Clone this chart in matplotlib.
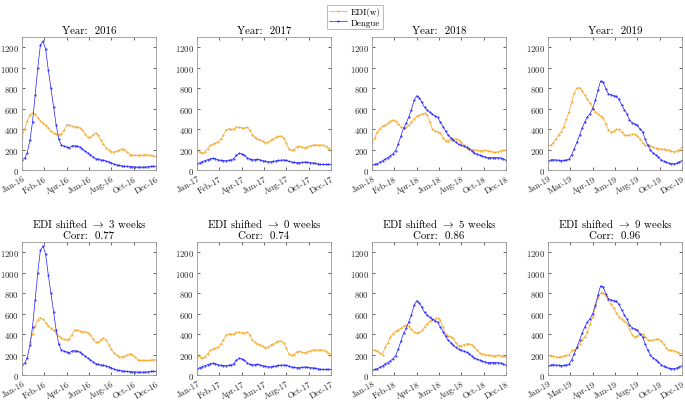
import matplotlib
matplotlib.use('Agg')
import matplotlib.pyplot as plt
import numpy as np

plt.rcParams['font.family'] = 'cmr10'
plt.rcParams['mathtext.fontset'] = 'cm'
plt.rcParams['axes.formatter.use_mathtext'] = True

years = [2016, 2017, 2018, 2019]
shifts = [3, 0, 5, 9]
corrs = [0.77, 0.74, 0.86, 0.96]

tick_labels = {
    2016: ['Jan-16', 'Feb-16', 'Apr-16', 'Jun-16', 'Aug-16', 'Oct-16', 'Dec-16'],
    2017: ['Jan-17', 'Feb-17', 'Apr-17', 'Jun-17', 'Aug-17', 'Oct-17', 'Dec-17'],
    2018: ['Jan-18', 'Feb-18', 'Apr-18', 'Jun-18', 'Aug-18', 'Oct-18', 'Dec-18'],
    2019: ['Jan-19', 'Mar-19', 'Apr-19', 'Jun-19', 'Aug-19', 'Oct-19', 'Dec-19'],
}

# weekly EDI(w) values, one list per year
edi_2016 = [320, 400, 480, 540, 560, 545, 510, 480, 455, 435, 410, 380, 360, 348, 345, 355,
            390, 440, 438, 430, 418, 425, 415, 395, 350, 318, 318, 345, 362, 340, 295, 250,
            215, 195, 180, 175, 182, 195, 208, 200, 175, 150, 142, 142, 142, 143, 146, 150,
            148, 143, 138, 132]
edi_2017 = [190, 175, 162, 180, 205, 240, 252, 262, 275, 300, 340, 390, 402, 398, 400, 418,
            418, 412, 410, 418, 395, 345, 318, 304, 298, 280, 265, 270, 290, 305, 318, 328,
            332, 312, 260, 205, 192, 200, 228, 232, 222, 218, 228, 235, 242, 245, 245, 244,
            243, 232, 215, 200]
edi_2018 = [272, 312, 370, 405, 428, 440, 455, 475, 487, 475, 445, 420, 412, 418, 435, 470,
            500, 525, 535, 548, 558, 535, 470, 400, 380, 375, 360, 310, 285, 288, 298, 304,
            304, 295, 272, 240, 215, 205, 198, 195, 192, 190, 190, 192, 188, 182, 175, 172,
            180, 188, 192, 193]
edi_2019 = [240, 242, 265, 305, 345, 375, 420, 500, 570, 660, 755, 800, 805, 770, 730, 690,
            655, 610, 570, 545, 525, 505, 450, 395, 370, 378, 398, 398, 375, 345, 338, 340,
            348, 348, 335, 300, 265, 242, 240, 235, 225, 212, 208, 205, 203, 200, 195, 185,
            180, 188, 200, 222]

# weekly dengue cases
dengue_2016 = [100, 115, 170, 290, 470, 730, 1000, 1220, 1260, 1180, 980, 800, 620, 440, 300,
               245, 232, 225, 218, 235, 238, 232, 225, 205, 185, 165, 150, 130, 112, 103, 98,
               95, 88, 80, 70, 58, 50, 45, 40, 37, 35, 33, 32, 30, 29, 28, 28, 29, 32, 35, 37, 36]
dengue_2017 = [55, 72, 82, 92, 100, 110, 115, 112, 100, 95, 92, 92, 95, 98, 112, 145, 162, 158,
               145, 122, 105, 100, 101, 103, 100, 92, 85, 80, 80, 84, 88, 93, 96, 98, 94, 85, 78,
               74, 72, 72, 75, 78, 76, 72, 70, 66, 60, 56, 55, 55, 55, 55]
dengue_2018 = [50, 54, 62, 75, 90, 108, 122, 138, 160, 190, 255, 330, 410, 455, 520, 590, 680,
               725, 705, 660, 612, 585, 565, 545, 530, 515, 470, 425, 380, 340, 315, 290, 270,
               250, 240, 232, 222, 210, 185, 165, 155, 145, 135, 128, 122, 121, 121, 120, 120,
               118, 108, 95]
dengue_2019 = [85, 97, 101, 98, 95, 92, 93, 98, 104, 150, 210, 270, 340, 410, 470, 520, 550,
               600, 680, 780, 870, 860, 795, 745, 735, 728, 720, 690, 640, 590, 550, 490, 462,
               450, 438, 400, 375, 300, 240, 195, 165, 150, 130, 100, 85, 75, 66, 62, 63, 68,
               82, 92]

edi = [edi_2016, edi_2017, edi_2018, edi_2019]
dengue = [dengue_2016, dengue_2017, dengue_2018, dengue_2019]
edi_all = np.concatenate(edi)

orange = '#F5A623'
blue = '#2020FF'
line_kw = dict(lw=0.5, marker='.', ms=1.0)

fig = plt.figure(figsize=(6.85, 4.02), dpi=100)
lefts = [22, 197, 372, 548]
W, H = 685.0, 402.0


def style(ax, year):
    n = len(edi[0])
    ax.set_xlim(0, n - 1)
    ax.set_ylim(0, 1300)
    ax.set_xticks(np.linspace(0, n - 1, 7))
    ax.set_xticklabels(tick_labels[year], rotation=30, ha='right', rotation_mode='anchor')
    ax.set_yticks(np.arange(0, 1201, 200))
    ax.tick_params(direction='in', length=2, width=0.5, labelsize=6.3, colors='#262626',
                   top=True, right=True, pad=2)
    ax.tick_params(axis='x', pad=3)
    for s in ax.spines.values():
        s.set_color('#9a9a9a')
        s.set_linewidth(0.6)


for i, year in enumerate(years):
    n = len(edi[i])
    weeks = np.arange(n)

    # top row: raw series
    ax = fig.add_axes([lefts[i] / W, 1 - 171 / H, 134 / W, 133 / H])
    l1, = ax.plot(weeks, edi[i], color=orange, label='EDI(w)', **line_kw)
    l2, = ax.plot(weeks, dengue[i], color=blue, label='Dengue', **line_kw)
    style(ax, year)
    ax.set_title('Year:  %d' % year, fontsize=7.8, pad=3)

    # bottom row: EDI shifted by k weeks
    k = shifts[i]
    idx = 52 * i + weeks - k
    ok = idx >= 0
    ax2 = fig.add_axes([lefts[i] / W, 1 - 376 / H, 134 / W, 133 / H])
    ax2.plot(weeks[ok], edi_all[idx[ok]], color=orange, **line_kw)
    ax2.plot(weeks, dengue[i], color=blue, **line_kw)
    style(ax2, year)
    ax2.set_title('EDI shifted $\\rightarrow$ %d weeks\nCorr:  %.2f' % (k, corrs[i]),
                  fontsize=7.8, pad=3, linespacing=1.2)

leg = fig.legend(handles=[l1, l2], loc='upper center', bbox_to_anchor=(355 / W, 0.997),
                 fontsize=6.5, frameon=True, fancybox=False, handlelength=2.0,
                 borderpad=0.3, labelspacing=0.2, handletextpad=0.4)
leg.get_frame().set_edgecolor('#9a9a9a')
leg.get_frame().set_linewidth(0.6)

fig.savefig('out.png', dpi=100)
